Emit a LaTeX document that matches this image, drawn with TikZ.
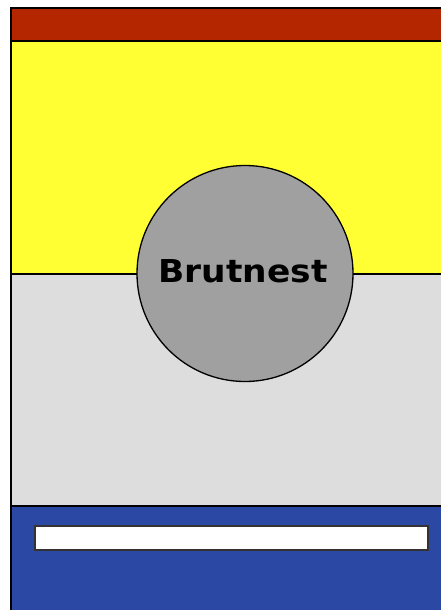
\documentclass[tikz,border=0pt]{standalone}
\usepackage{fontspec}
\setmainfont{DejaVu Sans}
\definecolor{bandred}{HTML}{B32600}
\definecolor{bandyellow}{HTML}{FFFF33}
\definecolor{bandgrey}{HTML}{DCDDDC}
\definecolor{bandblue}{HTML}{2B48A5}
\definecolor{discgrey}{HTML}{A0A0A0}
\begin{document}
\begin{tikzpicture}[x=1pt,y=-1pt,
  band/.style={draw=black,line width=1.3pt},
  disc/.style={circle,draw=black,line width=1.3pt,fill=discgrey,minimum size=216pt,inner sep=0pt},
  bar/.style={draw=black!80,line width=1.2pt,fill=white}]
\useasboundingbox (0,0) rectangle (441,610);
\fill[white] (0,0) rectangle (441,610);
\path[band,fill=bandred] (11,8) rectangle (445,41);
\path[band,fill=bandyellow] (11,41) rectangle (445,274);
\path[band,fill=bandgrey] (11,274) rectangle (445,506);
\path[band,fill=bandblue] (11,506) rectangle (445,614);
\node[disc] (disc) at (245,273.5) {};
\node (label) at (243,271.5) {\resizebox{169pt}{23pt}{\bfseries Brutnest}};
\node[bar,minimum width=393pt,minimum height=24pt,inner sep=0pt] (bar) at (231.5,538) {};
\end{tikzpicture}
\end{document}
